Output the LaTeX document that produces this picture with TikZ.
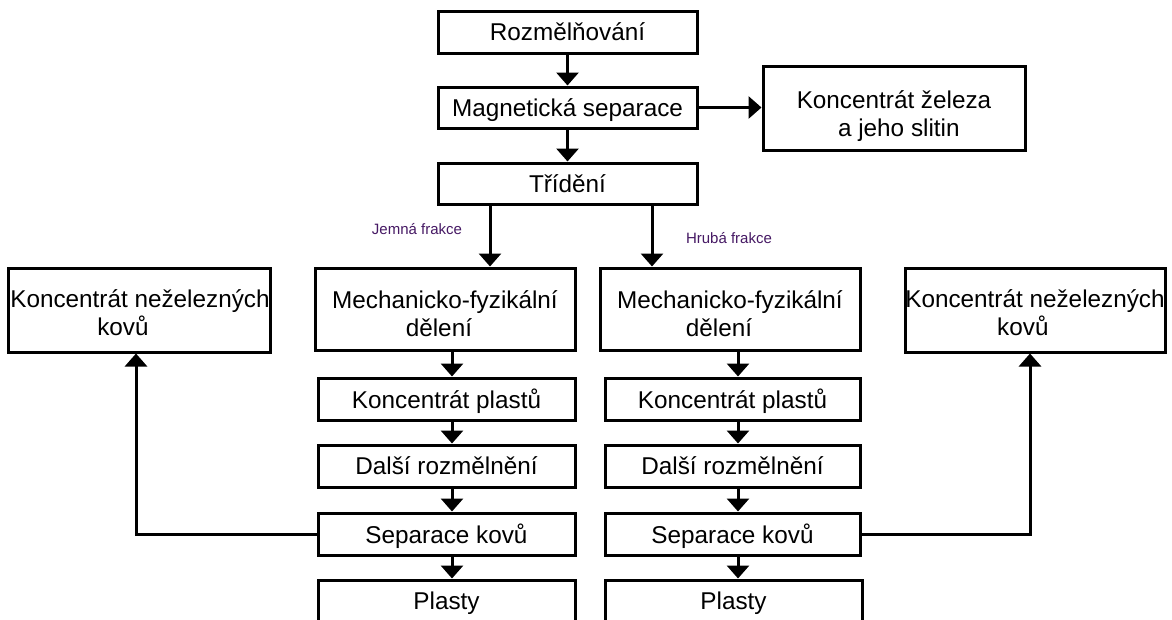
\documentclass[tikz,border=0pt]{standalone}
\usepackage{fontspec}
\setmainfont{Liberation Sans}
\usetikzlibrary{arrows.meta}
\definecolor{lblcol}{RGB}{70,25,100}
\begin{document}
\begin{tikzpicture}[x=1pt,y=-1pt,
  box/.style={draw, line width=3pt, inner sep=0pt, text depth=-1.5pt, font=\fontsize{24.3}{28}\selectfont},
  txt/.style={inner sep=0pt, align=center, font=\fontsize{24.3}{28}\selectfont},
  arr/.style={line width=3pt, -{Triangle[width=22pt,length=13pt]}},
  lbl/.style={font=\fontsize{15}{17}\selectfont, text=lblcol}]
\clip (0,0) rectangle (1172,619);
\fill[white] (0,0) rectangle (1172,619);
% top chain
\node[box, minimum width=259pt, minimum height=42pt] (roz) at (567.5,32) {Rozmělňování};
\node[box, minimum width=259pt, minimum height=41pt] (mag) at (567.5,107.5) {Magnetická separace};
\node[box, minimum width=262pt, minimum height=84pt] (kz) at (894,108) {};
\node[txt] (kzt) at (894,116) {Koncentrát železa\\\hspace*{0.4em}a jeho slitin};
\node[box, minimum width=259pt, minimum height=41pt] (tri) at (567.5,183.5) {Třídění};
% middle boxes
\node[box, minimum width=260pt, minimum height=82pt] (mL) at (445,309) {};
\node[txt] (mLt) at (445,314) {Mechanicko-fyzikální\\dělení\hspace*{0.5em}};
\node[box, minimum width=260pt, minimum height=82pt] (mR) at (730,309) {};
\node[txt] (mRt) at (730,314) {Mechanicko-fyzikální\\dělení\hspace*{0.9em}};
\node[box, minimum width=262pt, minimum height=84pt] (kL) at (139,310) {};
\node[txt] (kLt) at (140,313) {Koncentrát neželezných\\kovů\hspace*{1.4em}};
\node[box, minimum width=260pt, minimum height=84pt] (kR) at (1035,310) {};
\node[txt] (kRt) at (1035,313) {Koncentrát neželezných\\kovů\hspace*{1em}};
% left chain
\node[box, minimum width=257pt, minimum height=42pt] (pL) at (446.5,399) {Koncentrát plastů};
\node[box, minimum width=257pt, minimum height=42pt] (dL) at (446.5,466) {Další rozmělnění};
\node[box, minimum width=257pt, minimum height=42pt] (sL) at (446.5,534) {Separace kovů};
\node[box, minimum width=257pt, minimum height=42pt] (plL) at (446.5,601) {Plasty};
% right chain
\node[box, minimum width=255pt, minimum height=42pt] (pR) at (732.5,399) {Koncentrát plastů};
\node[box, minimum width=255pt, minimum height=42pt] (dR) at (732.5,466) {Další rozmělnění};
\node[box, minimum width=255pt, minimum height=42pt] (sR) at (732.5,534) {Separace kovů};
\node[box, minimum width=257pt, minimum height=42pt] (plR) at (733.5,601) {Plasty};
% labels
\node[lbl] (jem) at (417,229) {Jemná frakce};
\node[lbl] (hru) at (729,238) {Hrubá frakce};
% arrows
\draw[arr] (roz.south) -- (mag.north);
\draw[arr] (mag.east) -- (kz.west |- mag.east);
\draw[arr] (mag.south) -- (tri.north);
\draw[arr] (tri.south -| 490,0) -- (mL.north -| 490,0);
\draw[arr] (tri.south -| 652,0) -- (mR.north -| 652,0);
\draw[arr] (mL.south -| 452,0) -- (pL.north -| 452,0);
\draw[arr] (pL.south -| 452,0) -- (dL.north -| 452,0);
\draw[arr] (dL.south -| 452,0) -- (sL.north -| 452,0);
\draw[arr] (sL.south -| 452,0) -- (plL.north -| 452,0);
\draw[arr] (mR.south -| 738,0) -- (pR.north -| 738,0);
\draw[arr] (pR.south -| 738,0) -- (dR.north -| 738,0);
\draw[arr] (dR.south -| 738,0) -- (sR.north -| 738,0);
\draw[arr] (sR.south -| 738,0) -- (plR.north -| 738,0);
\draw[arr] (sL.west) -| (kL.south -| 136,0);
\draw[arr] (sR.east) -| (kR.south -| 1030,0);
\end{tikzpicture}
\end{document}
